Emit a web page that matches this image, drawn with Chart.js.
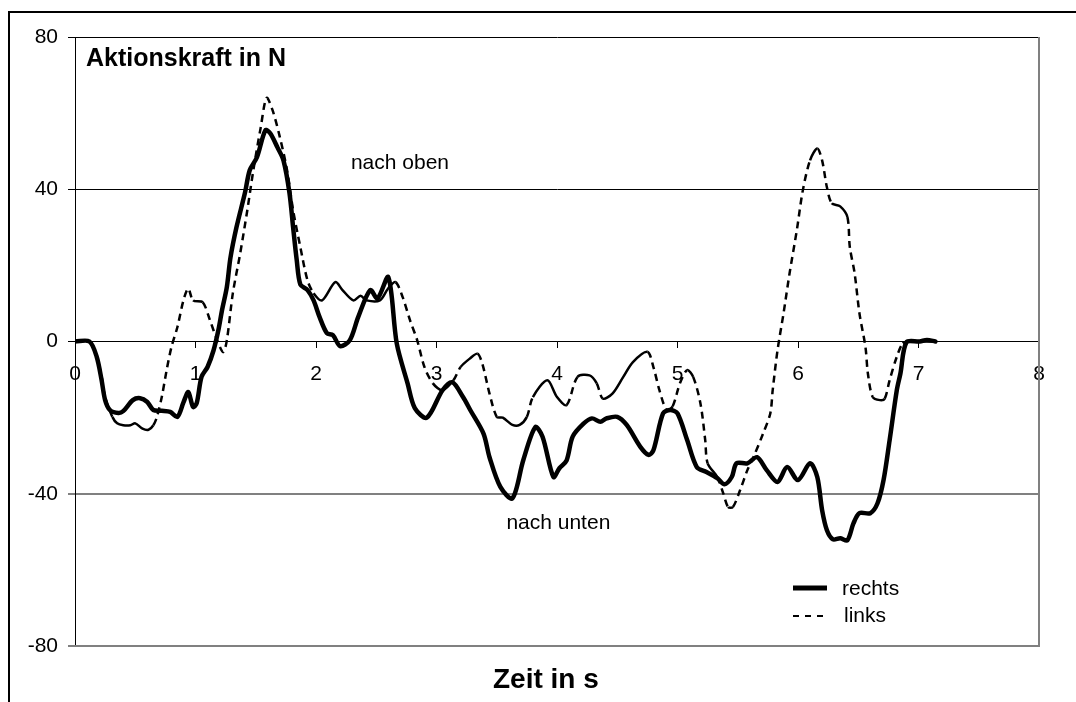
<!DOCTYPE html>
<html>
<head>
<meta charset="utf-8">
<title>Aktionskraft</title>
<script src="https://cdn.jsdelivr.net/npm/chart.js@4.4.1/dist/chart.umd.min.js"></script>
<style>
  body { margin: 0; background: #fff; }
  #wrap { width: 1076px; height: 702px; }
</style>
</head>
<body>
<div id="wrap"><canvas id="chart"></canvas></div>
<script>
// Zeit in s / Kraft in N
const seriesNames = ['rechts', 'links'];

const timeRechts = [0.00, 0.12, 0.18, 0.22, 0.25, 0.29, 0.36, 0.40, 0.48, 0.54, 0.60, 0.65, 0.72, 0.79, 0.85, 0.90, 0.94, 0.98, 1.01, 1.05,
  1.10, 1.15, 1.19, 1.22, 1.26, 1.29, 1.34, 1.41, 1.45, 1.51, 1.58, 1.62, 1.68, 1.73, 1.78, 1.81, 1.84, 1.87, 1.93, 1.98,
  2.03, 2.09, 2.14, 2.20, 2.28, 2.35, 2.45, 2.51, 2.60, 2.67, 2.76, 2.82, 2.92, 3.05, 3.13, 3.22, 3.28, 3.39, 3.44, 3.53,
  3.63, 3.72, 3.82, 3.88, 3.97, 4.02, 4.08, 4.13, 4.22, 4.29, 4.36, 4.41, 4.50, 4.58, 4.69, 4.76, 4.80, 4.88, 4.94, 5.00,
  5.08, 5.16, 5.24, 5.33, 5.39, 5.45, 5.49, 5.58, 5.66, 5.74, 5.83, 5.91, 6.00, 6.10, 6.16, 6.20, 6.24, 6.29, 6.35, 6.41,
  6.46, 6.51, 6.60, 6.66, 6.71, 6.76, 6.82, 6.85, 6.90, 7.01, 7.07, 7.14];
const kraftRechts = [0, 0, -4, -10, -15.4, -18, -18.8, -18.3, -15.4, -14.9, -15.9, -18, -18.2, -18.5, -19.8, -16, -13.3, -17.2, -16.2, -9.3,
  -6.7, -2.3, 3, 8.2, 14.3, 22, 30, 39, 45, 48.4, 55.5, 54.7, 51, 47.6, 39, 30, 21.4, 15, 13.5, 10.8,
  6.4, 2.2, 1.7, -1.2, 0.3, 6.4, 13.5, 11.3, 16.9, -0.5, -11, -17.5, -20, -12.8, -10.7, -14.6, -18, -24.2, -30.4, -38.2,
  -41.2, -31.2, -22.5, -25, -35.6, -33.3, -31.2, -25, -21.6, -20.2, -21.1, -20.2, -19.8, -22, -27.6, -29.8, -28.6, -18.9, -18, -18.9,
  -25.9, -33, -34.3, -35.9, -37.5, -35.6, -32, -32, -30.4, -33.8, -36.9, -33, -36.4, -32, -35.6, -44.3, -49.6, -52, -51.7, -52.2,
  -47.8, -45.1, -45.1, -42.5, -36.4, -26, -12.8, -8.4, -0.2, 0, 0.4, 0];

const timeLinks = [0.00, 0.12, 0.21, 0.25, 0.31, 0.35, 0.40, 0.46, 0.50, 0.56, 0.61, 0.65, 0.68, 0.72, 0.76, 0.80, 0.85, 0.90, 0.94, 0.98,
  1.06, 1.12, 1.18, 1.23, 1.26, 1.31, 1.37, 1.43, 1.48, 1.54, 1.59, 1.64, 1.70, 1.76, 1.81, 1.87, 1.93, 1.98, 2.05, 2.16,
  2.22, 2.31, 2.37, 2.42, 2.53, 2.60, 2.66, 2.72, 2.78, 2.84, 2.90, 2.97, 3.05, 3.14, 3.20, 3.28, 3.34, 3.38, 3.44, 3.50,
  3.55, 3.63, 3.69, 3.75, 3.80, 3.92, 4.00, 4.08, 4.17, 4.27, 4.33, 4.38, 4.46, 4.55, 4.63, 4.75, 4.80, 4.85, 4.91, 4.96,
  5.02, 5.08, 5.13, 5.19, 5.23, 5.25, 5.33, 5.38, 5.42, 5.46, 5.52, 5.58, 5.63, 5.71, 5.77, 5.79, 5.83, 5.88, 5.93, 5.99,
  6.04, 6.10, 6.16, 6.20, 6.24, 6.28, 6.35, 6.41, 6.43, 6.47, 6.51, 6.56, 6.58, 6.62, 6.68, 6.72, 6.76, 6.82, 6.87, 6.93, 7.14];
const kraftLinks = [0, 0, -7.6, -14.6, -19.8, -21.5, -22, -22, -21.5, -22.9, -23.2, -22, -19.8, -14.6, -7.6, -1.5, 3.8, 10.8, 13.9, 10.8,
  10.3, 5.6, 0.3, -2.8, 0.3, 12.7, 23, 34.5, 45, 56, 64, 60.7, 53.7, 45, 34.5, 24.8, 16, 12.7, 10.8, 15.6,
  13.5, 10.8, 12, 10.8, 10.8, 14, 15.6, 11.6, 5.6, 0.3, -6.7, -11, -12.8, -10.2, -6.7, -4.4, -3.2, -5.8, -13.7, -19.8,
  -20, -21.9, -21.9, -19.8, -14.6, -10.2, -14.6, -16.7, -9.3, -8.9, -11, -15, -13.7, -9.3, -5.4, -2.7, -6.7, -12.8, -18, -17,
  -11, -7.5, -9.3, -16.2, -25.9, -32, -35.6, -39.9, -43.5, -43.5, -39, -33.8, -30.4, -24.2, -18.9, -12.8, -2.3, 7.4, 17.9, 29.2,
  39.7, 47.6, 50.7, 47.6, 40.5, 36.3, 35.5, 32.7, 24.8, 17.9, 7.4, -1.5, -8.4, -14.6, -15.4, -15, -10.2, -4, -0.5, 0, 0];

const xMin = 0, xMax = 8, xStep = 1;
const yMin = -80, yMax = 80, yStep = 40;

const FONT = '"Liberation Sans", Arial, sans-serif';

function toPoints(times, values) {
  return times.map((t, i) => ({ x: t, y: values[i] }));
}

// Excel restarts the dash pattern on every short segment, so only steep parts look dashed
function dashOnSteep(ctx) {
  const dx = Math.abs(ctx.p1.x - ctx.p0.x);
  const dy = Math.abs(ctx.p1.y - ctx.p0.y);
  return dy > 1.8 * dx ? [7, 5] : [];
}

const decorPlugin = {
  id: 'decor',
  afterDraw(chart) {
    const { ctx, chartArea: a, scales: { x, y } } = chart;
    ctx.save();

    // plot area border (right and bottom, grey)
    ctx.strokeStyle = '#808080';
    ctx.lineWidth = 2;
    ctx.beginPath();
    ctx.moveTo(a.right, a.top);
    ctx.lineTo(a.right, a.bottom);
    ctx.lineTo(a.left, a.bottom);
    ctx.stroke();

    // outer frame of the figure (only top and left are inside the picture)
    ctx.strokeStyle = '#000';
    ctx.lineWidth = 2;
    ctx.beginPath();
    ctx.moveTo(9, chart.height);
    ctx.lineTo(9, 12);
    ctx.lineTo(chart.width, 12);
    ctx.stroke();

    ctx.fillStyle = '#000';
    ctx.textBaseline = 'alphabetic';
    ctx.textAlign = 'left';

    ctx.font = 'bold 25px ' + FONT;
    ctx.fillText('Aktionskraft in N', a.left + 11, a.top + 29);

    ctx.font = 'bold 28px ' + FONT;
    ctx.fillText('Zeit in s', a.left + 418, a.bottom + 42);

    ctx.font = '21px ' + FONT;
    ctx.fillText('nach oben', x.getPixelForValue(2.29), y.getPixelForValue(45.2));
    ctx.fillText('nach unten', x.getPixelForValue(3.58), y.getPixelForValue(-49.3));

    // legend
    const ds = chart.data.datasets;
    const lx = a.right - 246;
    ctx.lineCap = 'butt';
    ctx.strokeStyle = ds[0].borderColor;
    ctx.lineWidth = 5;
    ctx.beginPath();
    ctx.moveTo(lx, a.bottom - 58);
    ctx.lineTo(lx + 34, a.bottom - 58);
    ctx.stroke();
    ctx.fillText(ds[0].label, a.right - 197, a.bottom - 51);

    ctx.strokeStyle = ds[1].borderColor;
    ctx.lineWidth = 2;
    ctx.setLineDash([6, 6]);
    ctx.beginPath();
    ctx.moveTo(lx, a.bottom - 30);
    ctx.lineTo(lx + 32, a.bottom - 30);
    ctx.stroke();
    ctx.setLineDash([]);
    ctx.fillText(ds[1].label, a.right - 195, a.bottom - 24);

    ctx.restore();
  }
};

new Chart(document.getElementById('chart'), {
  type: 'line',
  data: {
    datasets: [
      {
        label: seriesNames[0],
        data: toPoints(timeRechts, kraftRechts),
        borderColor: '#000',
        borderWidth: 4.5,
        tension: 0.3,
        borderJoinStyle: 'round',
        borderCapStyle: 'round',
        pointRadius: 0,
        fill: false
      },
      {
        label: seriesNames[1],
        data: toPoints(timeLinks, kraftLinks),
        borderColor: '#000',
        borderWidth: 2.5,
        borderDash: [],
        tension: 0.3,
        pointRadius: 0,
        fill: false,
        segment: { borderDash: dashOnSteep }
      }
    ]
  },
  options: {
    responsive: true,
    maintainAspectRatio: false,
    animation: false,
    layout: { padding: { left: 0, top: 37, right: 37, bottom: 56 } },
    plugins: {
      legend: { display: false },
      tooltip: { enabled: false },
      title: { display: false }
    },
    scales: {
      x: {
        type: 'linear',
        position: { y: 0 },
        min: xMin,
        max: xMax,
        ticks: {
          stepSize: xStep,
          autoSkip: false,
          maxRotation: 0,
          color: '#000',
          padding: 14,
          font: { family: FONT, size: 21 }
        },
        grid: {
          display: true,
          drawOnChartArea: false,
          drawTicks: true,
          tickLength: 6,
          color: '#000'
        },
        border: { display: true, color: '#000', width: 1 }
      },
      y: {
        type: 'linear',
        position: 'left',
        min: yMin,
        max: yMax,
        afterFit(scale) { scale.width = 75; },
        ticks: {
          stepSize: yStep,
          color: '#000',
          padding: 10,
          font: { family: FONT, size: 21 }
        },
        grid: {
          drawTicks: true,
          tickLength: 7,
          color: ctx => (ctx.tick && ctx.tick.value <= -40 ? '#808080' : '#000'),
          lineWidth: ctx => (ctx.tick && ctx.tick.value <= -40 ? 2 : 1)
        },
        border: { display: true, color: '#000', width: 1 }
      }
    }
  },
  plugins: [decorPlugin]
});
</script>
</body>
</html>
